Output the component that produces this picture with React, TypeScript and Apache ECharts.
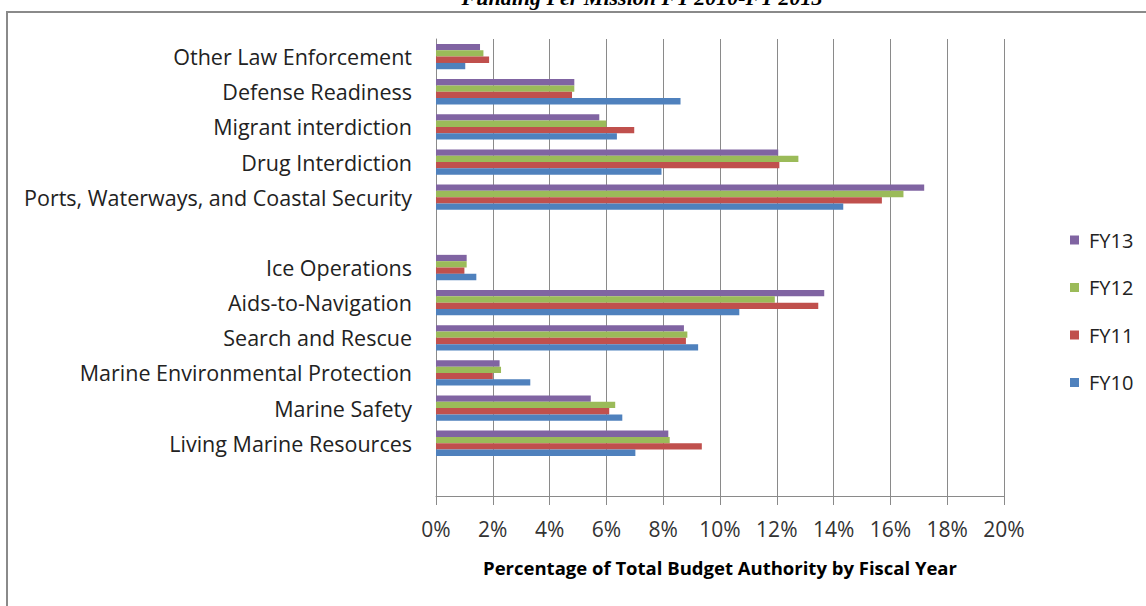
import React, { useEffect, useRef } from "react";
import * as echarts from "echarts";

const categories = [
  "",
  "Living Marine Resources",
  "Marine Safety",
  "Marine Environmental Protection",
  "Search and Rescue",
  "Aids-to-Navigation",
  "Ice Operations",
  " ",
  "Ports, Waterways, and Coastal Security",
  "Drug Interdiction",
  "Migrant interdiction",
  "Defense Readiness",
  "Other Law Enforcement",
];

const fy10 = [null, 7.02, 6.56, 3.32, 9.23, 10.68, 1.42, null, 14.34, 7.94, 6.37, 8.61, 1.03];
const fy11 = [null, 9.36, 6.1, 2.0, 8.8, 13.46, 1.0, null, 15.7, 12.09, 6.98, 4.79, 1.87];
const fy12 = [null, 8.23, 6.31, 2.29, 8.85, 11.93, 1.08, null, 16.46, 12.76, 6.0, 4.87, 1.67];
const fy13 = [null, 8.18, 5.45, 2.24, 8.73, 13.67, 1.08, null, 17.19, 12.05, 5.75, 4.87, 1.55];

const seriesNames = ["FY13", "FY12", "FY11", "FY10"];
const seriesColors = ["#8064A2", "#9BBB59", "#C0504D", "#4F81BD"];
const seriesData = [fy13, fy12, fy11, fy10];

const titleText = "Funding Per Mission FY 2010-FY 2013";
const axisTitle = "Percentage of Total Budget Authority by Fiscal Year";

const FONT = "'Open Sans', Lato, sans-serif";

export default function App() {
  const ref = useRef<HTMLDivElement>(null);
  useEffect(() => {
    if (!ref.current) return;
    const chart = echarts.init(ref.current, null, { renderer: "svg" });
    chart.setOption({
      animation: false,
      backgroundColor: "#ffffff",
      graphic: [
        {
          type: "rect",
          shape: { x: 7, y: 12, width: 1160, height: 620 },
          style: { fill: "none", stroke: "#8a8a8a", lineWidth: 2 },
          silent: true,
        },
        {
          type: "text",
          x: 642,
          y: -3,
          style: {
            text: titleText,
            font: "italic bold 22px 'Liberation Serif', 'Times New Roman', serif",
            fill: "#000",
            align: "center",
            verticalAlign: "middle",
          },
        },
      ],
      legend: {
        data: seriesNames,
        orient: "vertical",
        left: 1065,
        top: 225,
        itemWidth: 9,
        itemHeight: 9,
        itemGap: 27.5,
        icon: "rect",
        textStyle: { fontFamily: FONT, fontSize: 20, color: "#222", padding: [0, 0, 0, 5] },
      },
      grid: { left: 436, right: 142, top: 39, bottom: 110, containLabel: false },
      xAxis: {
        type: "value",
        min: 0,
        max: 20,
        interval: 2,
        axisLabel: {
          formatter: "{value}%",
          fontFamily: FONT,
          fontSize: 21,
          color: "#333",
          margin: 22,
        },
        axisLine: { show: true, lineStyle: { color: "#8a8a8a", width: 1 } },
        axisTick: { show: true, length: 9, lineStyle: { color: "#8a8a8a" } },
        splitLine: { show: true, lineStyle: { color: "#8a8a8a", width: 1 } },
        name: axisTitle,
        nameLocation: "middle",
        nameGap: 62,
        nameTextStyle: { fontFamily: FONT, fontSize: 18.5, fontWeight: "bold", color: "#000" },
      },
      yAxis: {
        type: "category",
        data: categories,
        axisLabel: {
          fontFamily: FONT,
          fontSize: 21.5,
          color: "#222",
          margin: 24,
          interval: 0,
        },
        axisLine: { show: true, lineStyle: { color: "#8a8a8a", width: 1 } },
        axisTick: { show: false },
        splitLine: { show: false },
      },
      series: seriesNames.map((name, i) => ({
        name,
        type: "bar",
        data: seriesData[i],
        barGap: "0%",
        barCategoryGap: "28%",
        itemStyle: { color: seriesColors[i] },
      })),
    });
    return () => chart.dispose();
  }, []);
  return (
    <div
      ref={ref}
      style={{ position: "fixed", left: 0, top: 0, width: 1146, height: 606, background: "#fff" }}
    />
  );
}
